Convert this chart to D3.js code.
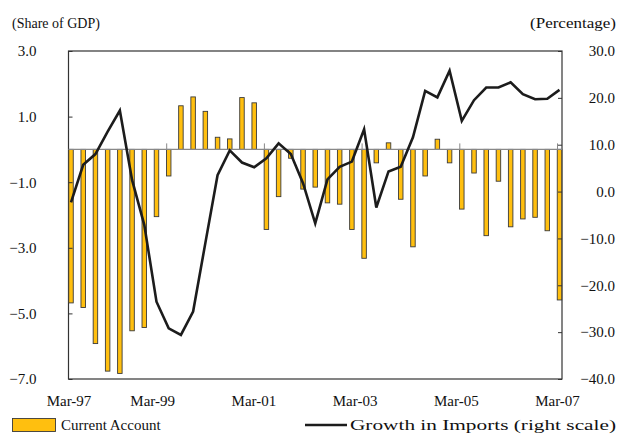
<!DOCTYPE html>
<html>
<head>
<meta charset="utf-8">
<script src="https://cdn.jsdelivr.net/npm/d3@7"></script>
<style>
  body { margin: 0; background: #fff; }
  svg { font-family: "Liberation Serif", "Times New Roman", serif; }
</style>
</head>
<body>
<div id="chart"></div>
<script>
// Quarterly categories, Mar-97 .. Mar-07
const quarters = [
  "Mar-97","Jun-97","Sep-97","Dec-97","Mar-98","Jun-98","Sep-98","Dec-98",
  "Mar-99","Jun-99","Sep-99","Dec-99","Mar-00","Jun-00","Sep-00","Dec-00",
  "Mar-01","Jun-01","Sep-01","Dec-01","Mar-02","Jun-02","Sep-02","Dec-02",
  "Mar-03","Jun-03","Sep-03","Dec-03","Mar-04","Jun-04","Sep-04","Dec-04",
  "Mar-05","Jun-05","Sep-05","Dec-05","Mar-06","Jun-06","Sep-06","Dec-06",
  "Mar-07"
];

// Current account, share of GDP (left scale)
const currentAccount = [
  -4.68, -4.82, -5.92, -6.76, -6.83, -5.53, -5.43, -2.05, -0.81, 1.33,
  1.60, 1.16, 0.37, 0.32, 1.58, 1.42, -2.44, -1.44, -0.27, -1.21,
  -1.15, -1.63, -1.67, -2.44, -3.32, -0.41, 0.20, -1.52, -2.97, -0.81,
  0.31, -0.41, -1.82, -0.72, -2.63, -0.97, -2.36, -2.12, -2.07, -2.48,
  -4.59
];

// Growth in imports, percentage (right scale)
const importGrowth = [
  -2.3, 5.7, 8.0, 12.8, 17.3, 2.5, -7.1, -23.5, -29.2, -30.6,
  -25.6, -11.0, 3.5, 8.8, 6.2, 5.2, 7.1, 10.3, 8.0, 1.8,
  -6.8, 2.6, 5.3, 6.4, 13.3, -3.4, 4.3, 5.3, 11.6, 21.5,
  20.1, 25.8, 15.1, 19.5, 22.2, 22.2, 23.3, 20.8, 19.7, 19.8,
  21.7
];

const leftTicks = [3, 1, -1, -3, -5, -7];
const rightTicks = [30, 20, 10, 0, -10, -20, -30, -40];
const xLabels = ["Mar-97", "Mar-99", "Mar-01", "Mar-03", "Mar-05", "Mar-07"];

const W = 618, H = 434;
const margin = { top: 51, right: 56, bottom: 55, left: 68.5 };
const width = W - margin.left - margin.right,
      height = H - margin.top - margin.bottom;

const svg = d3.select("#chart").append("svg")
  .attr("width", W).attr("height", H);

const g = svg.append("g")
  .attr("transform", `translate(${margin.left},${margin.top})`);

// scales
const x = d3.scalePoint().domain(quarters).range([2.5, width - 2.5]);
const yL = d3.scaleLinear().domain([-7, 3]).range([height, 0]);
const yR = d3.scaleLinear().domain([-40, 30]).range([height, 0]);

// plot frame
g.append("rect")
  .attr("width", width).attr("height", height)
  .attr("fill", "none").attr("stroke", "#333").attr("stroke-width", 1.2);

// bars
const bw = 4.5;
g.selectAll("rect.bar")
  .data(currentAccount)
  .join("rect")
    .attr("class", "bar")
    .attr("x", (d, i) => x(quarters[i]) - bw / 2)
    .attr("y", d => yL(Math.max(0, d)))
    .attr("width", bw)
    .attr("height", d => Math.abs(yL(d) - yL(0)))
    .attr("fill", "#FFBF0F")
    .attr("stroke", "#3a3a3a")
    .attr("stroke-width", 0.9);

// zero axis line with category ticks
g.append("line")
  .attr("x1", 0).attr("x2", width)
  .attr("y1", yL(0)).attr("y2", yL(0))
  .attr("stroke", "#888").attr("stroke-width", 1.2);
g.selectAll("line.ctick")
  .data(xLabels.slice(1))
  .join("line")
    .attr("class", "ctick")
    .attr("x1", d => x(d) - 2).attr("x2", d => x(d) - 2)
    .attr("y1", yL(0)).attr("y2", yL(0) - 6)
    .attr("stroke", "#888");

// left axis
const leftAxis = g.append("g")
  .call(d3.axisLeft(yL).tickValues(leftTicks).tickSize(-4).tickPadding(32)
    .tickFormat(d3.format(".1f")));
leftAxis.select(".domain").remove();
leftAxis.selectAll("line").attr("stroke", "#333");
leftAxis.selectAll("text")
  .attr("fill", "#111").style("font-size", "15px")
  .style("font-family", "Liberation Serif, serif");

// right axis (labels right-aligned near the page edge)
const rightAxis = g.append("g")
  .attr("transform", `translate(${width},0)`)
  .call(d3.axisRight(yR).tickValues(rightTicks).tickSize(-4)
    .tickFormat(d3.format(".1f")));
rightAxis.select(".domain").remove();
rightAxis.selectAll("line").attr("stroke", "#333");
rightAxis.selectAll("text")
  .attr("x", 53)
  .attr("text-anchor", "end")
  .attr("fill", "#111").style("font-size", "15px")
  .style("font-family", "Liberation Serif, serif");

// import growth line
const line = d3.line()
  .x((d, i) => x(quarters[i]))
  .y(d => yR(d));
g.append("path")
  .datum(importGrowth)
  .attr("d", line)
  .attr("fill", "none")
  .attr("stroke", "#1c1c1c")
  .attr("stroke-width", 2.6)
  .attr("stroke-linejoin", "miter");

// category labels (spread slightly as in the original layout)
const idx = q => quarters.indexOf(q);
const labX = d3.scaleLinear()
  .domain([8, 40])
  .range([x(quarters[8]) - 16, x(quarters[40]) - 2]);
g.selectAll("text.xlab")
  .data(xLabels)
  .join("text")
    .attr("class", "xlab")
    .attr("x", d => Math.max(x(quarters[0]) - 2, labX(idx(d))))
    .attr("y", height + 27)
    .attr("text-anchor", "middle")
    .attr("fill", "#111")
    .style("font-size", "15px")
    .text(d => d);

// axis titles
svg.append("text")
  .attr("x", 12).attr("y", 28)
  .style("font-size", "14px").attr("fill", "#111")
  .text("(Share of GDP)");
svg.append("text")
  .attr("x", 530).attr("y", 28)
  .attr("textLength", 86).attr("lengthAdjust", "spacingAndGlyphs")
  .style("font-size", "14px").attr("fill", "#111")
  .text("(Percentage)");

// legend
const lg = svg.append("g");
lg.append("rect")
  .attr("x", 12.5).attr("y", 418.5).attr("width", 43).attr("height", 13)
  .attr("fill", "#FFBF0F").attr("stroke", "#3a3a3a").attr("stroke-width", 0.9);
lg.append("text")
  .attr("x", 61).attr("y", 430)
  .style("font-size", "15px").attr("fill", "#111")
  .text("Current Account");
lg.append("line")
  .attr("x1", 305).attr("x2", 347).attr("y1", 425).attr("y2", 425)
  .attr("stroke", "#1c1c1c").attr("stroke-width", 2.6);
lg.append("text")
  .attr("x", 350).attr("y", 430)
  .attr("textLength", 266).attr("lengthAdjust", "spacingAndGlyphs")
  .style("font-size", "15px").attr("fill", "#111")
  .text("Growth in Imports (right scale)");
</script>
</body>
</html>
